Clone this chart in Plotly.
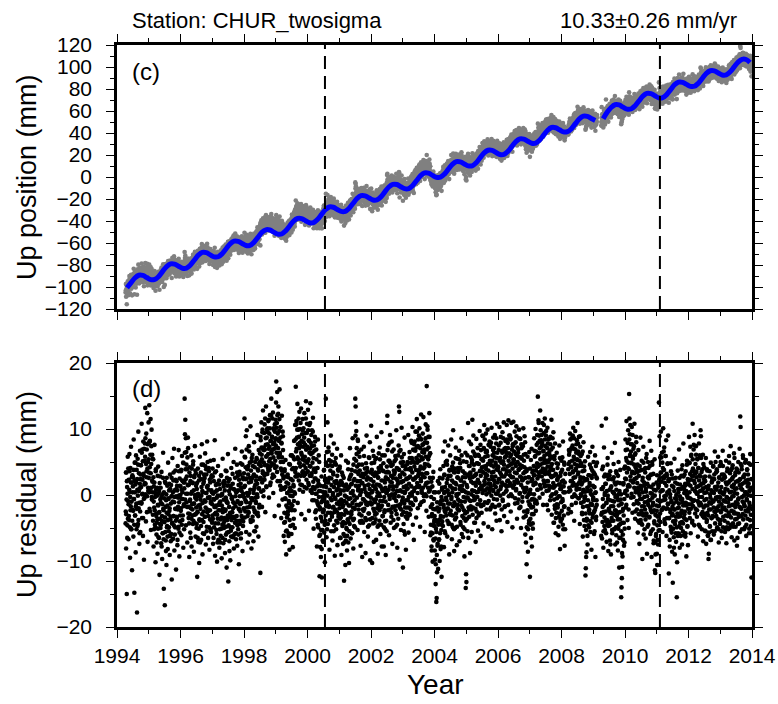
import plotly.graph_objects as go

# ---------------- data ----------------
YEARS = list(range(1994, 2014))
BREAK_YEARS = [2000.55, 2011.1]
X_TICKS = [1994, 1996, 1998, 2000, 2002, 2004, 2006, 2008, 2010, 2012, 2014]
RATE_TEXT = "10.33\u00b10.26 mm/yr"
STATION = "Station: CHUR_twosigma"

# blue model curve (mm), 8 samples per year at year + (j+0.5)/8
MODEL_1994 = [None, None, -100.7, -96.2, -91.8, -89.3, -89.5, -91.4]
MODEL_1995 = [-93.3, -93.1, -90.4, -85.8, -81.4, -79.0, -79.2, -81.1]
MODEL_1996 = [-82.9, -82.8, -80.0, -75.5, -71.1, -68.6, -68.8, -70.8]
MODEL_1997 = [-72.6, -72.5, -69.7, -65.2, -60.8, -58.3, -58.5, -60.4]
MODEL_1998 = [-62.3, -62.1, -59.4, -54.9, -50.4, -48.0, -48.2, -50.1]
MODEL_1999 = [-51.9, -51.8, -49.0, -44.5, -40.1, -37.7, -37.8, -39.8]
MODEL_2000 = [-41.6, -41.5, -38.7, -34.2, -29.8, -27.3, -27.5, -29.5]
MODEL_2001 = [-31.3, -31.2, -28.4, -23.9, -19.5, -17.0, -17.2, -19.1]
MODEL_2002 = [-20.9, -20.8, -18.1, -13.5, -9.1, -6.7, -6.8, -8.8]
MODEL_2003 = [-10.6, -10.5, -7.7, -3.2, 1.2, 3.7, 3.5, 1.5]
MODEL_2004 = [-0.3, -0.2, 2.6, 7.1, 11.5, 14.0, 13.8, 11.9]
MODEL_2005 = [10.1, 10.2, 12.9, 17.5, 21.9, 24.3, 24.2, 22.2]
MODEL_2006 = [20.4, 20.5, 23.3, 27.8, 32.2, 34.7, 34.5, 32.5]
MODEL_2007 = [30.7, 30.8, 33.6, 38.1, 42.5, 45.0, 44.8, 42.9]
MODEL_2008 = [41.0, 41.2, 43.9, 48.5, 52.9, 55.3, 55.1, 53.2]
MODEL_2009 = [51.4, None, 53.0, 58.8, 63.2, 65.7, 65.5, 63.5]
MODEL_2010 = [61.7, 61.8, 64.6, 69.1, 73.5, 76.0, 75.8, 73.9]
MODEL_2011 = [72.0, 72.2, 74.9, 79.4, 83.9, 86.3, 86.1, 84.2]
MODEL_2012 = [82.4, 82.5, 85.3, 89.8, 94.2, 96.6, 96.5, 94.5]
MODEL_2013 = [92.7, 92.8, 95.6, 100.1, 104.5, 107.0, 106.8, 104.0]

N = None
# residuals (mm), set A: 96 per year at year + (i+0.5)/96
RES_1994 = [N]*12 + [N]*12 + [
    N, N, -2.5, -8.1, 3.4, -15.0, 1.2, -4.6, 5.8, -0.9, -6.7, 2.3,
    -3.8, 6.2, 0.4, -9.5, 4.1, -1.7, 7.3, -5.2, 1.9, -11.4, 3.0, -2.2,
    2.7, -6.3, 8.4, -0.6, -14.8, 4.9, -3.1, 1.6, -8.7, 6.0, -1.3, 3.8,
    -17.8, 0.8, 5.5, -4.4, 9.6, -2.0, 3.3, -7.4, 1.0, 6.7, -5.6, 2.4,
    4.5, -1.1, 10.8, -3.5, 6.9, 0.2, -6.2, 8.1, 2.9, -9.8, 5.2, -0.4,
    7.8, 13.2, 1.7, -4.0, 9.3, 3.6, -2.6, 12.4, -7.1, 5.0, 0.6, 11.0]
RES_1995 = [
    3.4, 13.6, -2.1, 8.2, 0.9, 11.5, -5.3, 4.7, 9.9, -0.7, 6.1, 2.0,
    -3.0, 5.4, -7.8, 1.3, -1.9, 7.6, -4.5, 0.3, -10.2, 3.9, -2.8, -6.0,
    -4.2, 1.1, -8.9, -1.5, 4.3, -6.4, -2.7, 0.6, -12.1, -3.6, 2.8, -5.0,
    -1.2, -7.3, 3.5, -3.9, -9.7, 0.1, -5.8, 6.4, -2.3, -14.2, -0.5, -4.1,
    -16.7, -3.4, 1.8, -6.9, -0.8, -10.6, 2.6, -4.7, -1.6, -8.2, 4.9, -2.9,
    -5.5, 0.7, -2.4, -9.1, 3.1, -3.7, -7.0, 1.5, -0.2, -12.8, -4.3, 5.6,
    -1.0, -6.6, 2.2, -3.2, 7.0, -8.4, -0.3, -4.9, 3.7, -2.1, -11.3, 0.9,
    -3.3, 1.4, -7.6, 4.4, -1.8, -5.1, 6.8, -0.1, -9.3, 2.5, -4.0, 0.0]
RES_1996 = [
    -2.0, 3.6, -6.1, 0.8, 5.9, -3.8, -0.6, 2.1, -8.0, 4.8, -1.4, 1.0,
    14.6, 9.2, 11.4, 2.4, -4.6, 6.5, -1.1, 3.9, -7.2, 0.2, 8.7, -2.8,
    -3.5, 1.6, -9.4, 4.2, -0.9, -5.7, 2.9, -2.0, 6.0, -7.8, 0.5, -3.1,
    1.9, -4.4, 5.1, -1.3, -8.6, 2.7, -3.0, 7.4, -0.4, -6.3, 3.3, -1.9,
    -5.0, 0.9, -12.4, -2.6, 4.0, -7.1, -0.2, 2.2, -10.3, -3.9, 5.8, -1.5,
    -0.7, 3.4, -6.8, 1.2, 7.7, -2.9, -9.0, 0.4, 4.6, -4.1, 2.0, -5.9,
    2.6, -3.3, 6.3, -1.0, -7.5, 3.9, 0.3, -4.8, 8.1, -2.2, 1.4, -6.5,
    -2.4, 4.1, -0.5, -8.3, 2.3, -3.7, 5.2, -1.2, -5.6, 0.7, 3.0, -4.2]
RES_1997 = [
    -3.1, 2.8, -7.4, -0.6, 5.3, -4.9, -1.8, 8.3, -9.2, 0.5, -2.7, 3.6,
    -5.3, -0.4, -10.1, 1.7, -3.6, 4.4, -6.8, -1.5, 2.2, -8.0, -2.3, 0.9,
    -1.0, -6.2, 3.0, -3.4, -9.6, 0.0, -4.5, 5.5, -2.1, -7.3, 1.3, -5.0,
    -4.0, 1.8, -8.8, -2.4, 3.7, -6.0, -0.8, -11.0, 2.6, -3.8, -1.2, 6.2,
    -13.1, -4.6, 0.6, -7.0, 2.4, -2.9, -9.9, 1.0, -5.4, 4.1, -3.3, -0.3,
    -2.6, 3.2, -6.4, -1.1, 5.0, -8.1, -3.5, 0.8, -4.2, 7.0, -1.7, -5.8,
    0.4, -3.9, 4.6, -7.7, -0.9, 2.9, -5.2, 1.5, -10.5, -2.2, 3.5, -4.4,
    -1.4, 4.8, -6.6, 1.1, -3.2, 6.6, -0.1, -8.5, 2.7, -4.0, 0.2, -2.0]
RES_1998 = [
    1.2, 11.6, -3.4, 5.7, -0.8, 8.9, -5.6, 2.5, 9.8, -1.9, 4.0, -7.2,
    3.1, -2.6, 7.4, 0.3, -6.0, 4.9, -1.2, 10.4, -4.1, 2.0, -8.1, 5.6,
    -0.5, 6.1, -3.9, 2.8, -7.0, 0.8, 8.0, -2.3, 4.2, -5.5, 1.6, -1.0,
    2.2, -4.8, 5.4, 0.1, 9.1, -2.7, 3.7, -6.3, 6.8, 1.0, -1.5, 4.6,
    5.0, -11.8, 8.3, 2.4, 11.0, 6.1, -1.8, 9.5, 3.6, 12.8, 0.7, 7.2,
    6.8, 2.9, 10.7, 4.5, -2.6, 8.6, 13.4, 1.3, 5.9, 9.9, 3.2, 7.7,
    4.1, 11.2, 7.0, -0.4, 9.3, 3.8, 12.1, 5.5, 1.9, 8.2, 14.6, 6.3,
    8.8, 2.6, 6.9, 12.5, 0.3, 10.1, 4.6, 7.9, -3.2, 9.6, 5.2, 11.4]
RES_1999 = [
    7.5, 17.2, 4.3, 10.9, 15.6, 2.1, 8.4, 12.3, 5.9, -1.6, 9.7, 16.0,
    6.2, 1.4, 10.3, 4.0, -3.5, 7.8, 12.0, 3.1, -0.7, 8.9, 5.0, 2.5,
    1.0, -4.2, 3.6, -7.1, -0.5, 5.3, -2.8, -9.0, 1.9, -5.4, 0.3, -1.9,
    -3.0, 2.7, -6.2, -0.9, 4.7, -8.3, -2.0, 1.1, -4.7, 6.0, -1.4, -5.9,
    -2.3, 3.9, -0.2, -7.9, 5.8, 1.5, -3.6, 8.2, 0.4, -5.0, 10.6, 2.8,
    16.4, 6.6, 11.2, 3.0, 8.7, 13.8, -1.2, 5.4, 9.9, 2.2, 7.1, 12.6,
    4.8, 10.0, 1.6, 7.4, 13.1, -2.9, 6.1, 9.2, 3.4, 11.5, 0.5, 5.7,
    8.0, 2.9, 12.4, 5.2, -3.7, 9.4, 4.1, 14.2, 6.9, 1.0, 10.8, 3.5]
RES_2000 = [
    5.1, 12.9, 1.8, 8.3, -2.4, 10.6, 4.4, 7.0, 13.9, 0.6, 6.2, 9.1,
    3.3, 9.8, -0.8, 6.4, 11.7, 2.0, -5.1, 7.5, 4.0, 0.9, 8.8, -2.6,
    2.5, -3.6, 6.9, 0.2, -7.8, 4.1, -1.3, 8.4, -4.9, 1.7, -0.3, 5.0,
    -12.3, -1.9, -6.0, 1.4, -9.4, -3.5, 2.8, -12.5, -0.9, -5.3, 0.5, -7.1,
    -2.2, 3.7, -5.7, 0.1, -10.2, 2.5, -3.9, 14.6, 1.2, -6.4, 6.5, -1.1,
    11.0, -4.4, 2.3, 7.2, -1.6, 5.3, -8.3, 0.6, 4.5, -2.7, 9.0, -5.5,
    1.5, -3.0, 6.1, -6.9, 0.0, 3.4, -1.8, 7.8, -4.6, 2.0, -9.2, 4.8,
    -0.6, 5.6, -5.2, 2.1, -2.5, 7.0, -7.6, 0.9, 3.9, -3.3, 1.7, -1.0]
RES_2001 = [
    -2.0, 4.3, -6.5, 0.7, -3.4, 6.0, -9.1, 1.9, -1.2, -4.7, 3.0, -7.4,
    -4.1, 2.6, -13.0, -0.9, -6.2, 1.3, -10.6, -2.5, 5.2, -5.0, -0.3, -8.4,
    0.8, -3.7, 4.9, -7.2, -1.6, -10.3, 2.4, -4.4, 7.1, -0.5, -6.6, 1.6,
    -2.9, 3.8, -5.8, 0.3, 8.6, -1.9, -8.1, 2.2, -3.6, 5.5, -0.8, -4.9,
    14.6, 13.4, 11.0, 9.7, 6.2, -0.4, 3.5, -5.3, 8.2, 1.0, -2.2, 4.6,
    -1.5, 5.8, -4.0, 2.1, -7.7, 0.4, 6.9, -3.1, 1.8, -9.4, 3.2, -0.6,
    2.7, -2.4, 7.3, -5.6, 0.9, 4.0, -1.0, -8.8, 3.3, -3.8, 9.0, 0.0,
    -1.2, 3.6, -6.3, 1.5, -2.8, 5.7, -4.6, 0.2, 8.0, -9.9, 2.4, -0.4]
RES_2002 = [
    10.5, -1.4, 3.8, -10.3, 0.6, 6.7, -4.3, 2.0, -7.1, 4.9, -2.5, 1.2,
    -3.0, 5.4, -0.7, -6.8, 3.1, 8.8, -2.0, 0.4, -8.9, 2.6, -4.6, 6.3,
    1.5, -3.9, 7.2, -0.2, -5.9, 4.4, -1.8, 9.5, -7.8, 0.9, -3.2, 3.7,
    -0.9, 4.8, -7.8, 2.2, -2.6, 6.0, -4.0, 1.1, -9.1, 3.4, 0.3, -5.5,
    10.9, 12.0, 3.5, -2.3, 7.6, 0.8, -6.1, 5.2, -0.6, 9.1, 2.0, -4.2,
    2.9, -3.3, 8.1, 0.1, -7.4, 4.6, 1.3, -1.9, 6.9, -5.0, 3.2, -0.3,
    -1.7, 5.9, -4.8, 2.5, 9.8, -2.9, 0.6, -8.0, 4.0, 1.7, -3.6, 7.5,
    13.4, 12.6, -9.8, 3.0, -1.4, 6.8, -5.3, 1.9, 10.2, -3.0, 0.5, 4.4]
RES_2003 = [
    -11.0, 2.1, -4.4, 6.2, -1.3, 8.7, -6.0, 0.5, 3.9, -8.3, 1.4, -2.7,
    0.9, -3.6, 5.0, -0.8, 9.1, -5.7, 2.6, -1.9, 6.5, -3.0, 0.2, 4.1,
    3.8, 8.2, -1.2, 5.6, 0.4, 10.3, -4.5, 6.9, 2.3, -6.8, 7.7, 1.0,
    4.9, -0.5, 9.6, 2.7, -3.4, 7.2, 11.5, 1.8, 5.3, -2.0, 8.4, 3.1,
    6.0, 1.2, 10.1, 3.9, -4.8, 8.6, 2.4, 12.2, -1.1, 5.7, 0.3, 7.6,
    9.3, 2.8, 11.8, -0.9, 6.4, 4.2, -5.6, 8.0, 1.5, 10.7, 3.3, -2.4,
    16.5, 7.9, 10.4, 4.6, 1.1, 8.8, -3.3, 5.9, 12.4, 0.7, 6.3, -6.1,
    -1.8, -5.7, 2.0, -8.4, -2.9, 1.3, -10.1, -4.6, 3.5, -6.9, -0.6, -3.8]
RES_2004 = [
    -3.2, -9.8, 0.4, -13.5, -5.1, -16.2, -15.6, -11.7, -1.9, -7.4, 2.1, -4.5,
    -2.5, -6.8, 1.7, -10.0, -3.7, 3.9, -8.2, -0.9, -5.3, -12.4, 0.8, -4.0,
    1.1, -4.7, 6.6, -1.5, -7.9, 3.0, -2.4, 8.1, -5.8, 0.5, 4.7, -3.1,
    -0.8, 5.2, -6.3, 2.4, -2.0, 7.5, -4.4, 0.2, -9.0, 3.8, -1.3, 6.0,
    2.9, -3.0, 8.4, -0.3, -6.7, 4.3, 1.0, -4.9, 9.8, -1.6, 3.5, -8.5,
    -1.5, 4.0, -5.0, 1.8, 7.2, -3.4, 0.1, -7.6, 5.5, -2.1, 2.6, -0.7,
    3.7, -2.3, 6.7, -7.0, 0.9, 4.8, -4.1, 2.2, -1.0, 8.6, -5.9, 1.4,
    -1.9, 2.7, -6.4, 5.1, -3.5, 0.6, -9.3, 3.3, -2.8, 6.4, -14.1, -12.0]
RES_2005 = [
    -13.2, 1.5, -3.6, 6.0, -0.4, 10.9, -6.5, 2.9, 8.1, -2.2, 4.4, -8.8,
    3.2, -1.7, 7.7, 0.1, -5.6, 5.3, 11.4, -3.0, 1.8, 9.0, -0.8, 4.6,
    0.6, 6.2, -4.2, 3.0, -7.1, 1.9, 8.5, -2.5, 4.8, -0.3, 7.1, -5.4,
    2.0, -3.1, 5.9, 0.9, 9.7, -1.4, 3.7, -6.2, 6.8, 1.3, -2.7, 4.2,
    5.5, 0.3, 8.9, 3.4, -4.3, 7.0, 10.6, 1.6, -1.1, 5.8, 2.6, 9.3,
    3.9, -2.2, 6.5, 1.0, 9.9, 4.7, -4.8, 7.6, 2.3, 0.4, 8.1, 5.2,
    1.7, 7.3, -1.9, 4.5, 10.2, 2.8, -5.2, 6.0, 0.8, 8.7, 3.5, -0.6,
    6.4, 2.1, 9.1, -2.8, 4.9, 1.2, 7.8, -3.9, 5.6, 10.8, 0.2, 3.8]
RES_2006 = [
    4.2, -1.6, 7.5, 2.4, 10.3, -3.8, 5.6, 0.9, 8.8, 3.1, -5.5, 6.7,
    2.8, 9.5, -0.9, 5.1, 1.6, 11.0, -3.2, 7.0, 3.9, -1.7, 8.2, 0.5,
    5.9, 1.3, 10.6, 3.6, -4.1, 7.9, 2.2, 11.3, -0.2, 6.3, 4.5, 9.0,
    3.0, 8.4, -2.5, 6.1, 10.9, 1.4, 4.8, -4.9, 7.4, 2.7, 11.1, 5.3,
    6.6, 2.0, 9.6, -1.3, 4.7, 8.0, 0.7, 10.4, 3.3, -3.6, 7.2, 5.0,
    1.9, 6.9, 3.8, 9.9, -2.0, 5.7, 0.3, 8.5, 4.1, -5.0, 7.7, 2.6,
    4.4, -1.0, 7.6, 2.3, 10.1, -3.4, 5.2, 0.6, 8.9, 3.5, -6.0, 6.2,
    -7.2, 1.1, -10.5, 3.9, -2.6, 5.8, -8.6, 0.0, 2.7, -4.3, 6.5, -1.5]
RES_2007 = [
    -12.4, 0.8, -4.5, 5.3, -1.9, 7.0, -7.8, 2.4, -0.6, -5.1, 3.7, -2.9,
    3.0, 8.6, -0.7, 5.8, 1.9, 10.0, -2.4, 6.6, 4.2, -1.3, 9.1, 2.5,
    14.9, 6.3, 11.3, 3.4, 9.0, -0.4, 7.1, 12.8, 4.6, 1.0, 8.3, 5.5,
    2.8, 7.9, 10.9, 4.0, -1.5, 6.7, 9.4, 1.7, 5.3, 11.6, 3.2, 7.4,
    4.9, 9.7, 0.6, 6.2, 2.1, 10.2, 7.8, -2.3, 5.0, 8.5, 1.4, 3.6,
    6.0, -0.8, 8.8, 2.9, 4.4, 11.4, -3.0, 5.7, 1.2, 7.2, 3.8, 9.5,
    1.1, -4.2, 5.4, -1.6, 7.8, 0.2, -5.8, 3.1, -2.7, 6.4, -0.5, 2.3,
    -1.9, 4.7, -6.1, 1.6, -3.3, 7.5, -0.2, -8.2, 2.9, -4.0, 0.9, 5.2]
RES_2008 = [
    2.0, -3.6, 5.7, -0.9, 8.1, -5.2, 1.3, -1.8, 4.6, -7.7, 0.4, 3.2,
    N, N, N, N, N, N, N, N, 3.9, -2.1, 6.8, 1.1,
    5.0, 9.3, 0.7, 6.9, -2.6, 4.2, 8.6, 2.1, -0.3, 7.5, 3.4, 10.2,
    2.6, 7.0, -3.9, 5.4, 1.5, 9.7, 3.8, -1.2, 6.4, 0.8, 8.3, 4.5,
    10.9, 3.1, 6.6, -0.5, 8.8, 1.9, 5.2, -4.4, 7.3, 2.7, 0.1, 4.8,
    1.6, 6.2, -2.9, 3.6, -6.3, 0.5, 8.0, -1.0, 4.3, -4.7, 2.2, -0.2,
    -12.2, -11.1, -9.4, -8.7, -3.6, 2.3, -6.2, 0.6, 5.8, -1.7, 3.0, -4.9,
    1.4, -2.8, 6.5, -5.6, 0.2, 4.1, -8.3, 2.6, -1.5, 7.3, -3.4, -0.6]
RES_2009 = [
    -0.8, 3.4, -5.9, 1.2, -2.3, 6.0, -9.4, 0.4, -3.8, 2.7, -1.5, 4.9,
    N, N, N, N, N, N, N, N, N, N, N, N,
    -3.0, 10.5, -6.6, 0.9, -1.8, 4.3, -8.0, -2.6, 7.2, -4.7, 0.0, -5.3,
    1.7, -3.9, 11.6, -1.2, -7.1, 2.9, -4.4, 5.6, -0.6, -8.5, 3.1, -2.2,
    -4.1, 0.8, -6.9, 3.6, -2.7, -9.0, 1.3, -3.5, 6.4, -5.8, -0.9, 2.4,
    -1.7, 4.7, -5.2, 0.2, -3.0, 7.9, -7.5, 1.6, -2.4, -6.1, 3.3, -0.4,
    -2.9, 1.9, -8.4, -0.8, 5.0, -4.6, -11.0, 0.6, -3.7, 3.8, -6.5, -1.4,
    -15.5, -14.0, -12.6, -10.9, -9.3, -6.0, -2.1, 1.8, -4.2, 4.0, -7.2, 0.3]
RES_2010 = [
    2.5, 8.4, -1.9, 5.6, 11.2, 0.7, 6.9, -3.8, 4.1, 9.8, 1.5, -5.0,
    15.3, 11.6, 9.2, 6.1, 2.8, 7.7, -0.4, 4.9, 10.3, 3.3, -2.7, 5.8,
    1.9, 7.0, -1.4, 4.6, 10.8, 2.4, -3.6, 6.3, 0.6, 8.8, 3.8, -0.9,
    -1.2, 3.5, -5.7, 1.1, 6.8, -2.9, 0.3, -7.4, 4.4, -0.6, 8.7, -3.8,
    0.9, -4.3, 5.2, -1.7, -9.7, 2.6, -2.8, 7.3, -6.0, 1.4, -0.3, 3.9,
    -2.2, 4.1, -6.6, 0.5, -3.1, 6.2, -8.9, 1.7, -1.0, 5.0, -4.5, 2.8,
    1.3, -3.4, 8.2, -0.8, -5.9, 3.0, -2.3, 6.7, -9.4, 0.2, 4.6, -1.6,
    -2.5, 3.2, -7.3, 0.8, -4.0, 5.4, -11.4, -11.8, -9.0, -6.2, -3.1, 1.9]
RES_2011 = [
    -8.9, -10.6, -6.8, -3.3, 1.5, -5.4, 14.0, 2.2, 8.9, -1.0, 5.7, -4.1,
    9.6, 3.4, -2.3, 6.4, 0.7, -5.6, 4.1, 10.1, -0.8, 2.5, 7.2, -3.7,
    1.8, -4.4, 5.9, -0.1, 8.3, -6.2, 2.9, -2.0, 4.7, -1.3, 9.0, 0.4,
    -11.9, -3.5, 2.4, -7.8, 0.1, -2.6, 4.8, -5.3, -0.9, 3.1, -8.6, -1.8,
    -13.3, -4.0, 1.2, -6.4, -2.2, 5.5, -9.0, -0.5, -3.9, 2.6, -7.1, -1.0,
    -15.5, -10.2, -2.8, 3.7, -5.8, 0.4, -1.9, 6.9, -4.7, -8.0, 1.6, -3.2,
    -0.7, -5.0, 2.9, -2.4, -7.5, 4.5, -1.1, -4.3, 7.8, -6.1, 0.9, -2.9,
    -3.6, 1.4, -6.3, 3.6, -1.6, -9.3, 0.0, 5.2, -4.8, -0.4, -7.6, 2.0]
RES_2012 = [
    1.6, 8.8, -2.7, 4.9, -0.5, 7.3, -5.8, 2.3, 6.1, -1.4, 3.6, -3.9,
    10.8, 4.0, -0.9, 6.9, 2.2, -4.6, 9.1, 0.6, 3.3, -2.1, 7.4, 1.2,
    2.7, -3.3, 5.5, 0.2, -6.3, 4.1, -1.2, 7.8, -0.3, 3.0, -4.8, 1.5,
    9.8, 8.9, -1.5, 3.5, -5.2, 0.7, -2.6, 6.1, -7.0, 1.8, -3.4, 4.2,
    -0.8, -5.4, 2.1, -2.9, 5.6, -7.4, 0.4, -3.8, 3.7, -1.6, -6.1, 1.0,
    -9.7, -8.9, -2.2, 2.8, -4.7, 0.1, -6.8, 4.9, -1.3, -3.5, 1.9, -5.5,
    0.5, -3.2, 4.3, -1.0, -6.0, 2.4, -2.5, 6.6, -4.3, 0.9, -0.6, 3.4,
    -2.0, 3.9, -5.1, 1.3, -3.6, 5.8, -1.7, -7.2, 2.6, -0.3, 4.4, -4.4]
RES_2013 = [
    0.6, -3.8, 4.6, -1.4, -6.5, 2.3, -2.2, 6.7, -4.9, 0.1, 3.1, -0.9,
    -1.9, 2.8, -5.6, 0.9, -3.1, 5.2, -7.3, 1.6, -0.4, 4.0, -4.2, -1.1,
    1.9, -2.7, 5.9, -0.6, -5.0, 3.3, -1.6, 7.4, -3.4, 0.5, -6.4, 2.4,
    -0.2, 4.5, -4.3, 1.2, -2.5, 6.3, -6.9, 0.3, 3.0, -1.8, -4.8, 2.0,
    -2.8, 1.0, -7.7, 3.8, -1.3, -4.4, 5.0, -0.5, 2.2, -3.3, 7.0, -5.6,
    11.9, 10.3, 1.5, -2.1, 4.4, -5.2, 0.8, -1.0, 6.0, -3.7, 2.7, -0.1,
    -1.5, 3.1, -4.9, 0.4, -2.4, 5.3, -6.2, 1.9, -0.8, 3.9, -3.6, 0.0,
    2.3, -2.0, 4.8, -5.1, 0.7, -1.6, 6.2, -8.2, -3.0, 1.1, -12.5, -5.8]

# residuals (mm), set B: 96 per year at year + i/96
RESB_1994 = [N]*12 + [N]*12 + [
    N, N, -4.3, 3.4, -2.9, -0.7, 2.1, -6.5, 0.2, -3.6, 4.0, -1.4,
    -3.2, 0.8, 3.6, -4.9, -0.3, -2.3, 1.9, -5.2, -1.0, 2.7, -3.9, 0.4,
    1.3, -2.4, 3.8, -0.6, -4.5, 2.2, 0.4, -3.1, 4.9, -1.7, 1.9, -5.2,
    -2.1, 2.4, -4.7, -0.1, 4.6, -3.8, 0.6, -1.2, -5.8, 1.7, -2.5, 3.1,
    4.5, 1.2, -1.3, 6.4, 0.1, 2.3, 5.1, -3.5, 3.2, -0.6, 7.0, 1.6,
    1.8, 5.8, 8.6, 0.1, 4.7, 2.7, 6.9, -0.2, 4.0, 7.7, 1.1, 5.4]
RESB_1995 = [
    2.6, 8.0, 0.4, 4.2, -2.5, 6.1, 3.3, 1.1, 7.4, -0.3, 2.2, 5.5,
    0.4, -3.9, 2.7, -1.0, -5.2, 1.9, -2.3, -0.3, -4.9, 3.6, 0.8, -3.2,
    -7.2, -0.1, -3.7, 2.9, -5.1, -1.6, 0.2, -6.5, -2.6, 1.8, -4.4, -0.7,
    1.1, -4.5, -0.3, -7.8, -3.2, -1.4, -5.8, 2.6, -2.1, -6.7, 0.4, -4.1,
    -3.4, 2.0, -5.6, -1.8, -8.5, 0.1, -2.7, -4.9, 1.4, -6.3, -3.8, -0.5,
    -0.6, -4.9, 1.7, -2.0, -6.2, 0.9, -3.3, -1.3, -5.9, 2.6, -0.2, -4.2,
    -6.7, 0.4, -3.2, 3.4, -4.6, -1.1, 0.7, -6.0, -2.1, 2.3, -3.9, -0.2,
    2.1, -3.5, 0.7, -6.8, -2.2, -0.4, -4.8, 3.6, -1.1, -5.7, 1.4, -3.1]
RESB_1996 = [
    1.3, -2.4, 3.8, -0.6, -4.5, 2.2, 0.4, -3.1, 4.9, -1.7, 1.9, -5.2,
    1.9, 6.4, -0.7, 3.9, 8.6, 0.2, 4.6, 2.8, -1.8, 5.7, 1.5, 7.1,
    1.5, -1.8, -4.3, 3.4, -2.9, -0.7, 2.1, -6.5, 0.2, -3.6, 4.0, -1.4,
    -2.2, 1.8, 4.6, -3.9, 0.7, -1.3, 2.9, -4.2, 0.0, 3.7, -2.9, 1.4,
    -0.7, -4.4, 1.8, -2.6, -6.5, 0.2, -1.6, -5.1, 2.9, -3.7, -0.1, -7.2,
    -2.1, 2.4, -4.7, -0.1, 4.6, -3.8, 0.6, -1.2, -5.8, 1.7, -2.5, 3.1,
    2.5, -0.8, -3.3, 4.4, -1.9, 0.3, 3.1, -5.5, 1.2, -2.6, 5.0, -0.4,
    -3.2, 0.8, 3.6, -4.9, -0.3, -2.3, 1.9, -5.2, -1.0, 2.7, -3.9, 0.4]
RESB_1997 = [
    -1.4, 4.0, -3.6, 0.2, -6.5, 2.1, -0.7, -2.9, 3.4, -4.3, -1.8, 1.5,
    -1.6, -5.9, 0.7, -3.0, -7.2, -0.1, -4.3, -2.3, -6.9, 1.6, -1.2, -5.2,
    -7.2, -0.1, -3.7, 2.9, -5.1, -1.6, 0.2, -6.5, -2.6, 1.8, -4.4, -0.7,
    2.1, -3.5, 0.7, -6.8, -2.2, -0.4, -4.8, 3.6, -1.1, -5.7, 1.4, -3.1,
    -3.4, 2.0, -5.6, -1.8, -8.5, 0.1, -2.7, -4.9, 1.4, -6.3, -3.8, -0.5,
    -0.6, -4.9, 1.7, -2.0, -6.2, 0.9, -3.3, -1.3, -5.9, 2.6, -0.2, -4.2,
    -6.7, 0.4, -3.2, 3.4, -4.6, -1.1, 0.7, -6.0, -2.1, 2.3, -3.9, -0.2,
    3.1, -2.5, 1.7, -5.8, -1.2, 0.6, -3.8, 4.6, -0.1, -4.7, 2.4, -2.1]
RESB_1998 = [
    3.3, -0.4, 5.8, 1.4, -2.5, 4.2, 2.4, -1.1, 6.9, 0.3, 3.9, -3.2,
    -0.1, 4.4, -2.7, 1.9, 6.6, -1.8, 2.6, 0.8, -3.8, 3.7, -0.5, 5.1,
    2.5, -0.8, -3.3, 4.4, -1.9, 0.3, 3.1, -5.5, 1.2, -2.6, 5.0, -0.4,
    -1.2, 2.8, 5.6, -2.9, 1.7, -0.3, 3.9, -3.2, 1.0, 4.7, -1.9, 2.4,
    6.3, 2.6, 8.8, 4.4, 0.5, 7.2, 5.4, 1.9, 9.9, 3.3, 6.9, -0.2,
    4.9, 9.4, 2.3, 6.9, 11.6, 3.2, 7.6, 5.8, 1.2, 8.7, 4.5, 10.1,
    9.5, 6.2, 3.7, 11.4, 5.1, 7.3, 10.1, 1.5, 8.2, 4.4, 12.0, 6.6,
    4.8, 8.8, 11.6, 3.1, 7.7, 5.7, 9.9, 2.8, 7.0, 10.7, 4.1, 8.4]
RESB_1999 = [
    8.6, 14.0, 6.4, 10.2, 3.5, 12.1, 9.3, 7.1, 13.4, 5.7, 8.2, 11.5,
    6.4, 2.1, 8.7, 5.0, 0.8, 7.9, 3.7, 5.7, 1.1, 9.6, 6.8, 2.8,
    -6.2, 0.9, -2.7, 3.9, -4.1, -0.6, 1.2, -5.5, -1.6, 2.8, -3.4, 0.3,
    3.1, -2.5, 1.7, -5.8, -1.2, 0.6, -3.8, 4.6, -0.1, -4.7, 2.4, -2.1,
    0.6, 6.0, -1.6, 2.2, -4.5, 4.1, 1.3, -0.9, 5.4, -2.3, 0.2, 3.5,
    8.4, 4.1, 10.7, 7.0, 2.8, 9.9, 5.7, 7.7, 3.1, 11.6, 8.8, 4.8,
    0.8, 7.9, 4.3, 10.9, 2.9, 6.4, 8.2, 1.5, 5.4, 9.8, 3.6, 7.3,
    10.1, 4.5, 8.7, 1.2, 5.8, 7.6, 3.2, 11.6, 6.9, 2.3, 9.4, 4.9]
RESB_2000 = [
    7.3, 3.6, 9.8, 5.4, 1.5, 8.2, 6.4, 2.9, 10.9, 4.3, 7.9, 0.8,
    2.9, 7.4, 0.3, 4.9, 9.6, 1.2, 5.6, 3.8, -0.8, 6.7, 2.5, 8.1,
    3.5, 0.2, -2.3, 5.4, -0.9, 1.3, 4.1, -4.5, 2.2, -1.6, 6.0, 0.6,
    -6.2, -2.2, 0.6, -7.9, -3.3, -5.3, -1.1, -8.2, -4.0, -0.3, -6.9, -2.6,
    1.3, -2.4, 3.8, -0.6, -4.5, 2.2, 0.4, -3.1, 4.9, -1.7, 1.9, -5.2,
    -0.1, 4.4, -2.7, 1.9, 6.6, -1.8, 2.6, 0.8, -3.8, 3.7, -0.5, 5.1,
    2.5, -0.8, -3.3, 4.4, -1.9, 0.3, 3.1, -5.5, 1.2, -2.6, 5.0, -0.4,
    -2.2, 1.8, 4.6, -3.9, 0.7, -1.3, 2.9, -4.2, 0.0, 3.7, -2.9, 1.4]
RESB_2001 = [
    -1.4, 4.0, -3.6, 0.2, -6.5, 2.1, -0.7, -2.9, 3.4, -4.3, -1.8, 1.5,
    -1.6, -5.9, 0.7, -3.0, -7.2, -0.1, -4.3, -2.3, -6.9, 1.6, -1.2, -5.2,
    -6.2, 0.9, -2.7, 3.9, -4.1, -0.6, 1.2, -5.5, -1.6, 2.8, -3.4, 0.3,
    3.1, -2.5, 1.7, -5.8, -1.2, 0.6, -3.8, 4.6, -0.1, -4.7, 2.4, -2.1,
    3.6, 9.0, 1.4, 5.2, -1.5, 7.1, 4.3, 2.1, 8.4, 0.7, 3.2, 6.5,
    1.4, -2.9, 3.7, 0.0, -4.2, 2.9, -1.3, 0.7, -3.9, 4.6, 1.8, -2.2,
    -4.2, 2.9, -0.7, 5.9, -2.1, 1.4, 3.2, -3.5, 0.4, 4.8, -1.4, 2.3,
    4.1, -1.5, 2.7, -4.8, -0.2, 1.6, -2.8, 5.6, 0.9, -3.7, 3.4, -1.1]
RESB_2002 = [
    2.3, -1.4, 4.8, 0.4, -3.5, 3.2, 1.4, -2.1, 5.9, -0.7, 2.9, -4.2,
    -1.1, 3.4, -3.7, 0.9, 5.6, -2.8, 1.6, -0.2, -4.8, 2.7, -1.5, 4.1,
    3.5, 0.2, -2.3, 5.4, -0.9, 1.3, 4.1, -4.5, 2.2, -1.6, 6.0, 0.6,
    -3.2, 0.8, 3.6, -4.9, -0.3, -2.3, 1.9, -5.2, -1.0, 2.7, -3.9, 0.4,
    4.3, 0.6, 6.8, 2.4, -1.5, 5.2, 3.4, -0.1, 7.9, 1.3, 4.9, -2.2,
    -0.1, 4.4, -2.7, 1.9, 6.6, -1.8, 2.6, 0.8, -3.8, 3.7, -0.5, 5.1,
    3.5, 0.2, -2.3, 5.4, -0.9, 1.3, 4.1, -4.5, 2.2, -1.6, 6.0, 0.6,
    -0.2, 3.8, 6.6, -1.9, 2.7, 0.7, 4.9, -2.2, 2.0, 5.7, -0.9, 3.4]
RESB_2003 = [
    -0.4, 5.0, -2.6, 1.2, -5.5, 3.1, 0.3, -1.9, 4.4, -3.3, -0.8, 2.5,
    2.4, -1.9, 4.7, 1.0, -3.2, 3.9, -0.3, 1.7, -2.9, 5.6, 2.8, -1.2,
    -2.2, 4.9, 1.3, 7.9, -0.1, 3.4, 5.2, -1.5, 2.4, 6.8, 0.6, 4.3,
    8.1, 2.5, 6.7, -0.8, 3.8, 5.6, 1.2, 9.6, 4.9, 0.3, 7.4, 2.9,
    3.6, 9.0, 1.4, 5.2, -1.5, 7.1, 4.3, 2.1, 8.4, 0.7, 3.2, 6.5,
    5.4, 1.1, 7.7, 4.0, -0.2, 6.9, 2.7, 4.7, 0.1, 8.6, 5.8, 1.8,
    -0.2, 6.9, 3.3, 9.9, 1.9, 5.4, 7.2, 0.5, 4.4, 8.8, 2.6, 6.3,
    1.1, -4.5, -0.3, -7.8, -3.2, -1.4, -5.8, 2.6, -2.1, -6.7, 0.4, -4.1]
RESB_2004 = [
    -4.7, -8.4, -2.2, -6.6, -10.5, -3.8, -5.6, -9.1, -1.1, -7.7, -4.1, -11.2,
    -4.1, 0.4, -6.7, -2.1, 2.6, -5.8, -1.4, -3.2, -7.8, -0.3, -4.5, 1.1,
    2.5, -0.8, -3.3, 4.4, -1.9, 0.3, 3.1, -5.5, 1.2, -2.6, 5.0, -0.4,
    -2.2, 1.8, 4.6, -3.9, 0.7, -1.3, 2.9, -4.2, 0.0, 3.7, -2.9, 1.4,
    1.3, -2.4, 3.8, -0.6, -4.5, 2.2, 0.4, -3.1, 4.9, -1.7, 1.9, -5.2,
    -1.1, 3.4, -3.7, 0.9, 5.6, -2.8, 1.6, -0.2, -4.8, 2.7, -1.5, 4.1,
    3.5, 0.2, -2.3, 5.4, -0.9, 1.3, 4.1, -4.5, 2.2, -1.6, 6.0, 0.6,
    -3.2, 0.8, 3.6, -4.9, -0.3, -2.3, 1.9, -5.2, -1.0, 2.7, -3.9, 0.4]
RESB_2005 = [
    -0.4, 5.0, -2.6, 1.2, -5.5, 3.1, 0.3, -1.9, 4.4, -3.3, -0.8, 2.5,
    3.4, -0.9, 5.7, 2.0, -2.2, 4.9, 0.7, 2.7, -1.9, 6.6, 3.8, -0.2,
    -4.2, 2.9, -0.7, 5.9, -2.1, 1.4, 3.2, -3.5, 0.4, 4.8, -1.4, 2.3,
    6.1, 0.5, 4.7, -2.8, 1.8, 3.6, -0.8, 7.6, 2.9, -1.7, 5.4, 0.9,
    3.6, 9.0, 1.4, 5.2, -1.5, 7.1, 4.3, 2.1, 8.4, 0.7, 3.2, 6.5,
    4.4, 0.1, 6.7, 3.0, -1.2, 5.9, 1.7, 3.7, -0.9, 7.6, 4.8, 0.8,
    -2.2, 4.9, 1.3, 7.9, -0.1, 3.4, 5.2, -1.5, 2.4, 6.8, 0.6, 4.3,
    7.1, 1.5, 5.7, -1.8, 2.8, 4.6, 0.2, 8.6, 3.9, -0.7, 6.4, 1.9]
RESB_2006 = [
    4.3, 0.6, 6.8, 2.4, -1.5, 5.2, 3.4, -0.1, 7.9, 1.3, 4.9, -2.2,
    1.9, 6.4, -0.7, 3.9, 8.6, 0.2, 4.6, 2.8, -1.8, 5.7, 1.5, 7.1,
    6.5, 3.2, 0.7, 8.4, 2.1, 4.3, 7.1, -1.5, 5.2, 1.4, 9.0, 3.6,
    1.8, 5.8, 8.6, 0.1, 4.7, 2.7, 6.9, -0.2, 4.0, 7.7, 1.1, 5.4,
    5.3, 1.6, 7.8, 3.4, -0.5, 6.2, 4.4, 0.9, 8.9, 2.3, 5.9, -1.2,
    1.9, 6.4, -0.7, 3.9, 8.6, 0.2, 4.6, 2.8, -1.8, 5.7, 1.5, 7.1,
    5.5, 2.2, -0.3, 7.4, 1.1, 3.3, 6.1, -2.5, 4.2, 0.4, 8.0, 2.6,
    -3.2, 0.8, 3.6, -4.9, -0.3, -2.3, 1.9, -5.2, -1.0, 2.7, -3.9, 0.4]
RESB_2007 = [
    -1.4, 4.0, -3.6, 0.2, -6.5, 2.1, -0.7, -2.9, 3.4, -4.3, -1.8, 1.5,
    4.4, 0.1, 6.7, 3.0, -1.2, 5.9, 1.7, 3.7, -0.9, 7.6, 4.8, 0.8,
    0.8, 7.9, 4.3, 10.9, 2.9, 6.4, 8.2, 1.5, 5.4, 9.8, 3.6, 7.3,
    9.1, 3.5, 7.7, 0.2, 4.8, 6.6, 2.2, 10.6, 5.9, 1.3, 8.4, 3.9,
    3.6, 9.0, 1.4, 5.2, -1.5, 7.1, 4.3, 2.1, 8.4, 0.7, 3.2, 6.5,
    5.4, 1.1, 7.7, 4.0, -0.2, 6.9, 2.7, 4.7, 0.1, 8.6, 5.8, 1.8,
    -4.2, 2.9, -0.7, 5.9, -2.1, 1.4, 3.2, -3.5, 0.4, 4.8, -1.4, 2.3,
    4.1, -1.5, 2.7, -4.8, -0.2, 1.6, -2.8, 5.6, 0.9, -3.7, 3.4, -1.1]
RESB_2008 = [
    1.3, -2.4, 3.8, -0.6, -4.5, 2.2, 0.4, -3.1, 4.9, -1.7, 1.9, -5.2,
    N, N, N, N, N, N, N, N, -2.8, 4.7, 0.5, 6.1,
    6.5, 3.2, 0.7, 8.4, 2.1, 4.3, 7.1, -1.5, 5.2, 1.4, 9.0, 3.6,
    1.8, 5.8, 8.6, 0.1, 4.7, 2.7, 6.9, -0.2, 4.0, 7.7, 1.1, 5.4,
    5.3, 1.6, 7.8, 3.4, -0.5, 6.2, 4.4, 0.9, 8.9, 2.3, 5.9, -1.2,
    -0.1, 4.4, -2.7, 1.9, 6.6, -1.8, 2.6, 0.8, -3.8, 3.7, -0.5, 5.1,
    0.5, -2.8, -5.3, 2.4, -3.9, -1.7, 1.1, -7.5, -0.8, -4.6, 3.0, -2.4,
    -2.2, 1.8, 4.6, -3.9, 0.7, -1.3, 2.9, -4.2, 0.0, 3.7, -2.9, 1.4]
RESB_2009 = [
    -0.4, 5.0, -2.6, 1.2, -5.5, 3.1, 0.3, -1.9, 4.4, -3.3, -0.8, 2.5,
    N, N, N, N, N, N, N, N, N, N, N, N,
    -6.2, 0.9, -2.7, 3.9, -4.1, -0.6, 1.2, -5.5, -1.6, 2.8, -3.4, 0.3,
    3.1, -2.5, 1.7, -5.8, -1.2, 0.6, -3.8, 4.6, -0.1, -4.7, 2.4, -2.1,
    -2.4, 3.0, -4.6, -0.8, -7.5, 1.1, -1.7, -3.9, 2.4, -5.3, -2.8, 0.5,
    0.4, -3.9, 2.7, -1.0, -5.2, 1.9, -2.3, -0.3, -4.9, 3.6, 0.8, -3.2,
    -7.2, -0.1, -3.7, 2.9, -5.1, -1.6, 0.2, -6.5, -2.6, 1.8, -4.4, -0.7,
    0.1, -5.5, -1.3, -8.8, -4.2, -2.4, -6.8, 1.6, -3.1, -7.7, -0.6, -5.1]
RESB_2010 = [
    4.3, 0.6, 6.8, 2.4, -1.5, 5.2, 3.4, -0.1, 7.9, 1.3, 4.9, -2.2,
    3.9, 8.4, 1.3, 5.9, 10.6, 2.2, 6.6, 4.8, 0.2, 7.7, 3.5, 9.1,
    5.5, 2.2, -0.3, 7.4, 1.1, 3.3, 6.1, -2.5, 4.2, 0.4, 8.0, 2.6,
    -2.2, 1.8, 4.6, -3.9, 0.7, -1.3, 2.9, -4.2, 0.0, 3.7, -2.9, 1.4,
    1.3, -2.4, 3.8, -0.6, -4.5, 2.2, 0.4, -3.1, 4.9, -1.7, 1.9, -5.2,
    -1.1, 3.4, -3.7, 0.9, 5.6, -2.8, 1.6, -0.2, -4.8, 2.7, -1.5, 4.1,
    2.5, -0.8, -3.3, 4.4, -1.9, 0.3, 3.1, -5.5, 1.2, -2.6, 5.0, -0.4,
    -5.2, -1.2, 1.6, -6.9, -2.3, -4.3, -0.1, -7.2, -3.0, 0.7, -5.9, -1.6]
RESB_2011 = [
    -2.4, 3.0, -4.6, -0.8, -7.5, 1.1, -1.7, -3.9, 2.4, -5.3, -2.8, 0.5,
    3.4, -0.9, 5.7, 2.0, -2.2, 4.9, 0.7, 2.7, -1.9, 6.6, 3.8, -0.2,
    -4.2, 2.9, -0.7, 5.9, -2.1, 1.4, 3.2, -3.5, 0.4, 4.8, -1.4, 2.3,
    2.1, -3.5, 0.7, -6.8, -2.2, -0.4, -4.8, 3.6, -1.1, -5.7, 1.4, -3.1,
    -2.9, 2.5, -5.1, -1.3, -8.0, 0.6, -2.2, -4.4, 1.9, -5.8, -3.3, 0.0,
    -0.6, -4.9, 1.7, -2.0, -6.2, 0.9, -3.3, -1.3, -5.9, 2.6, -0.2, -4.2,
    -6.2, 0.9, -2.7, 3.9, -4.1, -0.6, 1.2, -5.5, -1.6, 2.8, -3.4, 0.3,
    3.1, -2.5, 1.7, -5.8, -1.2, 0.6, -3.8, 4.6, -0.1, -4.7, 2.4, -2.1]
RESB_2012 = [
    2.3, -1.4, 4.8, 0.4, -3.5, 3.2, 1.4, -2.1, 5.9, -0.7, 2.9, -4.2,
    0.9, 5.4, -1.7, 2.9, 7.6, -0.8, 3.6, 1.8, -2.8, 4.7, 0.5, 6.1,
    3.5, 0.2, -2.3, 5.4, -0.9, 1.3, 4.1, -4.5, 2.2, -1.6, 6.0, 0.6,
    -1.2, 2.8, 5.6, -2.9, 1.7, -0.3, 3.9, -3.2, 1.0, 4.7, -1.9, 2.4,
    0.3, -3.4, 2.8, -1.6, -5.5, 1.2, -0.6, -4.1, 3.9, -2.7, 0.9, -6.2,
    -3.1, 1.4, -5.7, -1.1, 3.6, -4.8, -0.4, -2.2, -6.8, 0.7, -3.5, 2.1,
    2.5, -0.8, -3.3, 4.4, -1.9, 0.3, 3.1, -5.5, 1.2, -2.6, 5.0, -0.4,
    -3.2, 0.8, 3.6, -4.9, -0.3, -2.3, 1.9, -5.2, -1.0, 2.7, -3.9, 0.4]
RESB_2013 = [
    -0.4, 5.0, -2.6, 1.2, -5.5, 3.1, 0.3, -1.9, 4.4, -3.3, -0.8, 2.5,
    0.4, -3.9, 2.7, -1.0, -5.2, 1.9, -2.3, -0.3, -4.9, 3.6, 0.8, -3.2,
    -5.2, 1.9, -1.7, 4.9, -3.1, 0.4, 2.2, -4.5, -0.6, 3.8, -2.4, 1.3,
    4.1, -1.5, 2.7, -4.8, -0.2, 1.6, -2.8, 5.6, 0.9, -3.7, 3.4, -1.1,
    -1.4, 4.0, -3.6, 0.2, -6.5, 2.1, -0.7, -2.9, 3.4, -4.3, -1.8, 1.5,
    2.4, -1.9, 4.7, 1.0, -3.2, 3.9, -0.3, 1.7, -2.9, 5.6, 2.8, -1.2,
    -5.2, 1.9, -1.7, 4.9, -3.1, 0.4, 2.2, -4.5, -0.6, 3.8, -2.4, 1.3,
    3.1, -2.5, 1.7, -5.8, -1.2, 0.6, -3.8, 4.6, -0.1, -4.7, 2.4, -2.1]

MODEL = {y: globals()["MODEL_%d" % y] for y in YEARS}
RES_SETS = [
    ({y: globals()["RES_%d" % y] for y in YEARS}, 0.5),
    ({y: globals()["RESB_%d" % y] for y in YEARS}, 0.0),
]

# ---------------- assemble traces ----------------
x_res, y_res, y_up = [], [], []
for res, off in RES_SETS:
    for yr in YEARS:
        m, r = MODEL[yr], res[yr]
        for i, v in enumerate(r):
            b = i // 12
            if v is None or m[b] is None:
                continue
            x_res.append(yr + (i + off) / 96)
            y_res.append(v)
            y_up.append(m[b] + v)

x_mod, y_mod = [], []
for yr in YEARS:
    for j, v in enumerate(MODEL[yr]):
        x_mod.append(yr + (j + 0.5) / 8)
        y_mod.append(v)

FONT = "Liberation Sans, Arial, Helvetica, sans-serif"

fig = go.Figure()
fig.add_trace(go.Scatter(x=x_res, y=y_up, mode="markers", xaxis="x", yaxis="y",
                         marker=dict(color="#808080", size=4.6, line=dict(width=0)),
                         showlegend=False, hoverinfo="skip"))
fig.add_trace(go.Scatter(x=x_mod, y=y_mod, mode="lines", xaxis="x", yaxis="y",
                         line=dict(color="#0000ff", width=5, shape="spline"),
                         connectgaps=False, showlegend=False, hoverinfo="skip"))
fig.add_trace(go.Scatter(x=x_res, y=y_res, mode="markers", xaxis="x2", yaxis="y2",
                         marker=dict(color="#000000", size=4.6, line=dict(width=0)),
                         showlegend=False, hoverinfo="skip"))

L, R, T, B = 117, 26, 45, 77
W, H = 778, 704
PH = H - T - B
PW = W - L - R


def py(p):
    return (H - B - p) / PH


def px(p):
    return (p - L) / PW


axis_common = dict(showline=True, linewidth=2.5, linecolor="black", mirror="allticks",
                   ticks="outside", tickwidth=1.3, tickcolor="black", ticklen=8,
                   showgrid=False, zeroline=False, automargin=False,
                   tickfont=dict(family=FONT, size=21, color="black"))
minor_x = dict(dtick=1, tick0=1994, ticklen=4, tickwidth=1.3, ticks="outside", tickcolor="black")

fig.update_layout(
    template="none",
    width=W, height=H, margin=dict(l=L, r=R, t=T, b=B, autoexpand=False),
    paper_bgcolor="white", plot_bgcolor="white",
    xaxis=dict(axis_common, domain=[0, 1], anchor="y", range=[1994, 2014],
               tickvals=X_TICKS, showticklabels=False, minor=minor_x),
    yaxis=dict(axis_common, domain=[py(309), 1], anchor="x", range=[-120, 120],
               dtick=20, tick0=0, ticklabelstandoff=10,
               minor=dict(dtick=10, ticklen=4, tickwidth=1.3, ticks="outside", tickcolor="black")),
    xaxis2=dict(axis_common, domain=[0, 1], anchor="y2", range=[1994, 2014],
                tickvals=X_TICKS, ticklabelstandoff=0, minor=minor_x),
    yaxis2=dict(axis_common, domain=[0, py(363)], anchor="x2", range=[-20, 20],
                dtick=10, tick0=0, ticklabelstandoff=10,
                minor=dict(dtick=5, ticklen=4, tickwidth=1.3, ticks="outside", tickcolor="black")),
)

shapes = []
for b in BREAK_YEARS:
    for yref in ("y domain", "y2 domain"):
        shapes.append(dict(type="line", xref="x", yref=yref, x0=b, x1=b, y0=0, y1=1,
                           line=dict(color="black", width=2, dash="13px,7px"), layer="above"))
fig.update_layout(shapes=shapes)

ann = [
    dict(text=STATION, x=px(130), y=py(21), xanchor="left", yanchor="middle",
         font=dict(family=FONT, size=22, color="black")),
    dict(text=RATE_TEXT, x=px(739), y=py(21), xanchor="right", yanchor="middle",
         font=dict(family=FONT, size=22, color="black")),
    dict(text="(c)", x=px(130), y=py(72), xanchor="left", yanchor="middle",
         font=dict(family=FONT, size=24, color="black")),
    dict(text="(d)", x=px(130), y=py(388), xanchor="left", yanchor="middle",
         font=dict(family=FONT, size=24, color="black")),
    dict(text="Up position (mm)", x=px(27), y=py(177), textangle=-90,
         xanchor="center", yanchor="middle", font=dict(family=FONT, size=27, color="black")),
    dict(text="Up residual (mm)", x=px(27), y=py(495), textangle=-90,
         xanchor="center", yanchor="middle", font=dict(family=FONT, size=27, color="black")),
    dict(text="Year", x=px(435), y=py(684), xanchor="center", yanchor="middle",
         font=dict(family=FONT, size=28, color="black")),
]
for a in ann:
    a.update(xref="paper", yref="paper", showarrow=False)
fig.update_layout(annotations=ann)

fig.write_html("out.html", config={"displayModeBar": False},
               post_script="document.body.style.margin='0';document.body.style.overflow='hidden';")
